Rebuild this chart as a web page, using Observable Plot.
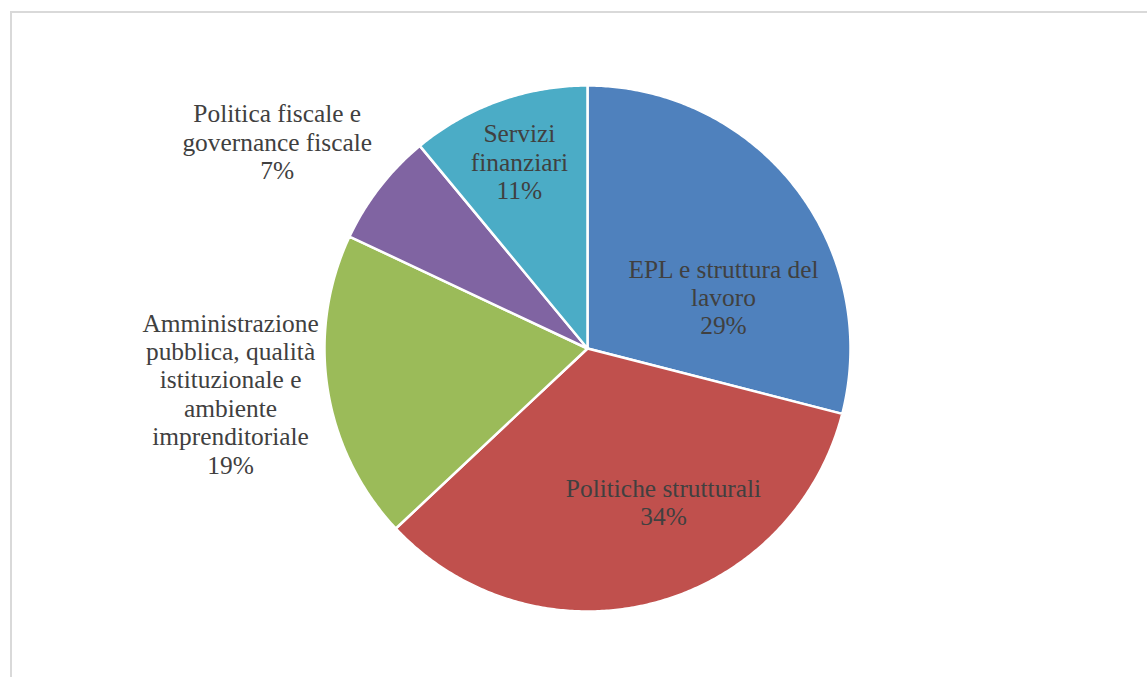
<!DOCTYPE html>
<html>
<head>
<meta charset="utf-8">
<script src="https://cdn.jsdelivr.net/npm/d3@7"></script>
<script src="https://cdn.jsdelivr.net/npm/@observablehq/plot@0.6"></script>
<style>
  html, body { margin: 0; padding: 0; background: #fff; overflow: hidden; }
  #frame { position: absolute; left: 10px; top: 11px; width: 1200px; height: 720px;
           border-left: 2px solid #d9d9d9; border-top: 2px solid #d9d9d9; }
  #chart { position: absolute; left: 0; top: 0; }
</style>
</head>
<body>
<div id="frame"></div>
<div id="chart"></div>
<script>
// ---- data ----
const categories = [
  "EPL e struttura del\nlavoro",
  "Politiche strutturali",
  "Amministrazione\npubblica, qualità\nistituzionale e\nambiente\nimprenditoriale",
  "Politica fiscale e\ngovernance fiscale",
  "Servizi\nfinanziari"
];
const shares = [29, 34, 19, 7, 11];
const colors = ["#4F81BD", "#C0504D", "#9BBB59", "#8064A2", "#4BACC6"];

// ---- label layout (angle in degrees clockwise from 12 o'clock, radius relative to pie radius) ----
const labelAngle = [69.2, 153.6, 262.8, 303.7, 340.0];
const labelRadius = [0.553, 0.650, 1.368, 1.418, 0.757];

const pie = d3.pie().sort(null).value(d => d.value)(
  categories.map((c, i) => ({ key: c, value: shares[i] }))
);

const slicePoints = [];
pie.forEach(p => {
  const key = p.data.key;
  slicePoints.push({ key, x: 0, y: 0 });
  const steps = Math.max(2, Math.ceil((p.endAngle - p.startAngle) / (Math.PI / 360)));
  for (let k = 0; k <= steps; k++) {
    const a = p.startAngle + (p.endAngle - p.startAngle) * k / steps;
    slicePoints.push({ key, x: Math.sin(a), y: Math.cos(a) });
  }
});

const labels = categories.map((c, i) => {
  const a = labelAngle[i] * Math.PI / 180;
  return {
    key: c,
    text: c + "\n" + shares[i] + "%",
    x: labelRadius[i] * Math.sin(a),
    y: labelRadius[i] * Math.cos(a)
  };
});

const chart = Plot.plot({
  width: 1147,
  height: 677,
  marginLeft: 324,
  marginRight: 297,
  marginTop: 85,
  marginBottom: 66,
  style: { background: "transparent", overflow: "visible" },
  x: { domain: [-1, 1], axis: null },
  y: { domain: [-1, 1], axis: null },
  color: { domain: categories, range: colors },
  marks: [
    Plot.line(slicePoints, {
      x: "x", y: "y", z: "key",
      fill: "key", stroke: "#ffffff", strokeWidth: 2.5,
      strokeLinejoin: "round",
      curve: "linear-closed"
    }),
    Plot.text(labels, {
      x: "x", y: "y", text: "text",
      fill: "#404040",
      fontSize: 25.4,
      fontFamily: "Liberation Serif",
      lineHeight: 1.12,
      textAnchor: "middle"
    })
  ]
});
document.getElementById("chart").appendChild(chart);
</script>
</body>
</html>
